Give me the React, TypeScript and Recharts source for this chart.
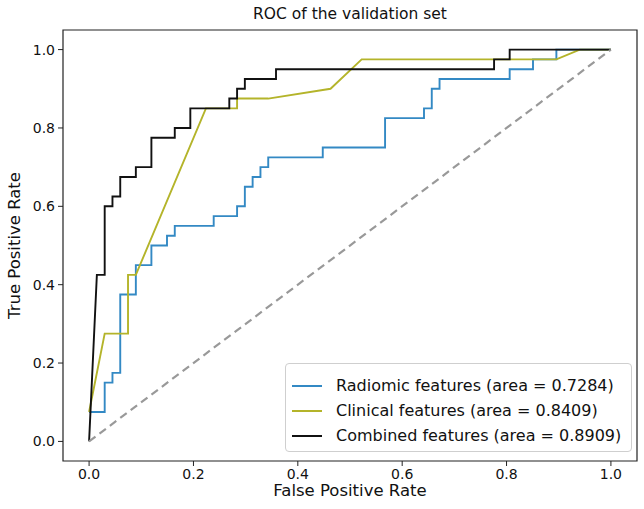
import { Label, Line, LineChart, ReferenceArea, XAxis, YAxis } from "recharts";

const axisTicks = [0, 0.2, 0.4, 0.6, 0.8, 1.0];

// ROC points (false positive rate, true positive rate)
const radiomicFpr = [
  0, 0.0299, 0.0299, 0.0448, 0.0448, 0.0597, 0.0597, 0.0896, 0.0896, 0.1194, 0.1194, 0.1493, 0.1493, 0.1642, 0.1642,
  0.2388, 0.2388, 0.2836, 0.2836, 0.2985, 0.2985, 0.3134, 0.3134, 0.3284, 0.3284, 0.3433, 0.3433, 0.4478, 0.4478,
  0.5672, 0.5672, 0.6418, 0.6418, 0.6567, 0.6567, 0.6716, 0.6716, 0.806, 0.806, 0.8507, 0.8507, 0.8955, 0.8955, 1
];
const radiomicTpr = [
  0.075, 0.075, 0.15, 0.15, 0.175, 0.175, 0.375, 0.375, 0.45, 0.45, 0.5, 0.5, 0.525, 0.525, 0.55, 0.55, 0.575, 0.575,
  0.6, 0.6, 0.65, 0.65, 0.675, 0.675, 0.7, 0.7, 0.725, 0.725, 0.75, 0.75, 0.825, 0.825, 0.85, 0.85, 0.9, 0.9, 0.925,
  0.925, 0.95, 0.95, 0.975, 0.975, 1, 1
];

const clinicalFpr = [0, 0.0299, 0.0746, 0.0746, 0.0896, 0.2239, 0.2836, 0.2836, 0.3433, 0.4627, 0.5224, 0.8955, 0.9403, 1];
const clinicalTpr = [0.075, 0.275, 0.275, 0.425, 0.425, 0.85, 0.85, 0.875, 0.875, 0.9, 0.975, 0.975, 1, 1];

const combinedFpr = [
  0, 0.0149, 0.0299, 0.0299, 0.0448, 0.0448, 0.0597, 0.0597, 0.0896, 0.0896, 0.1194, 0.1194, 0.1642, 0.1642, 0.194,
  0.194, 0.2687, 0.2687, 0.2836, 0.2836, 0.2985, 0.2985, 0.3582, 0.3582, 0.7761, 0.7761, 0.806, 0.806, 1
];
const combinedTpr = [
  0, 0.425, 0.425, 0.6, 0.6, 0.625, 0.625, 0.675, 0.675, 0.7, 0.7, 0.775, 0.775, 0.8, 0.8, 0.85, 0.85, 0.875, 0.875,
  0.9, 0.9, 0.925, 0.925, 0.95, 0.95, 0.975, 0.975, 1, 1
];

const chanceFpr = [0, 1];
const chanceTpr = [0, 1];

const toPoints = (fpr: number[], tpr: number[]) => fpr.map((x, i) => ({ x, y: tpr[i] }));

const series = [
  { color: "#3389c4", name: "Radiomic features (area = 0.7284)", points: toPoints(radiomicFpr, radiomicTpr) },
  { color: "#b4b42a", name: "Clinical features (area = 0.8409)", points: toPoints(clinicalFpr, clinicalTpr) },
  { color: "#111111", name: "Combined features (area = 0.8909)", points: toPoints(combinedFpr, combinedTpr) }
];

const FONT = "DejaVu Sans";
const tickStyle = { fill: "#111", fontFamily: FONT, fontSize: 14 };

// legend drawn over the plot, lower right like matplotlib's loc="lower right"
function RocLegend() {
  return (
    <div
      style={{
        background: "rgba(255,255,255,0.85)",
        border: "1px solid #cfcfcf",
        borderRadius: 4,
        boxSizing: "border-box",
        height: 89,
        left: 285,
        padding: "9px 0 0 6px",
        position: "absolute",
        top: 363,
        width: 347
      }}
    >
      {series.map((s) => (
        <div key={s.name} style={{ alignItems: "center", display: "flex", height: 25 }}>
          <span style={{ borderTop: `2px solid ${s.color}`, display: "inline-block", marginRight: 14, width: 30 }} />
          <span style={{ color: "#111", fontFamily: FONT, fontSize: 16, whiteSpace: "nowrap" }}>{s.name}</span>
        </div>
      ))}
    </div>
  );
}

export default function App() {
  return (
    <div style={{ background: "#fff", height: 509, left: 0, position: "absolute", top: 0, width: 644 }}>
      <div
        style={{
          color: "#111",
          fontFamily: FONT,
          fontSize: 15.5,
          left: 63,
          lineHeight: "20px",
          position: "absolute",
          textAlign: "center",
          top: 4,
          width: 574
        }}
      >
        ROC of the validation set
      </div>
      <LineChart height={509} margin={{ bottom: 0, left: 0, right: 7, top: 30 }} width={644}>
        <XAxis
          allowDataOverflow
          axisLine={false}
          dataKey="x"
          domain={[-0.05, 1.05]}
          height={48}
          tick={tickStyle}
          tickFormatter={(v: number) => v.toFixed(1)}
          tickLine={{ stroke: "#222" }}
          tickMargin={3}
          tickSize={5}
          ticks={axisTicks}
          type="number"
        >
          <Label fill="#111" fontFamily={FONT} fontSize={16.5} offset={13} position="insideBottom" value="False Positive Rate" />
        </XAxis>
        <YAxis
          allowDataOverflow
          axisLine={false}
          domain={[-0.05, 1.05]}
          tick={tickStyle}
          tickFormatter={(v: number) => v.toFixed(1)}
          tickLine={{ stroke: "#222" }}
          tickMargin={3}
          tickSize={5}
          ticks={axisTicks}
          type="number"
          width={63}
        >
          <Label
            angle={-90}
            fill="#111"
            fontFamily={FONT}
            fontSize={16.5}
            offset={14}
            position="insideLeft"
            style={{ textAnchor: "middle" }}
            value="True Positive Rate"
          />
        </YAxis>
        <ReferenceArea fill="none" ifOverflow="visible" stroke="#222" strokeWidth={1.2} x1={-0.05} x2={1.05} y1={-0.05} y2={1.05} />
        {series.map((s) => (
          <Line
            data={s.points}
            dataKey="y"
            dot={false}
            isAnimationActive={false}
            key={s.name}
            name={s.name}
            stroke={s.color}
            strokeWidth={1.9}
            type="linear"
          />
        ))}
        <Line
          data={toPoints(chanceFpr, chanceTpr)}
          dataKey="y"
          dot={false}
          isAnimationActive={false}
          legendType="none"
          stroke="#999"
          strokeDasharray="8 5"
          strokeWidth={2.2}
          type="linear"
        />
      </LineChart>
      <RocLegend />
    </div>
  );
}
